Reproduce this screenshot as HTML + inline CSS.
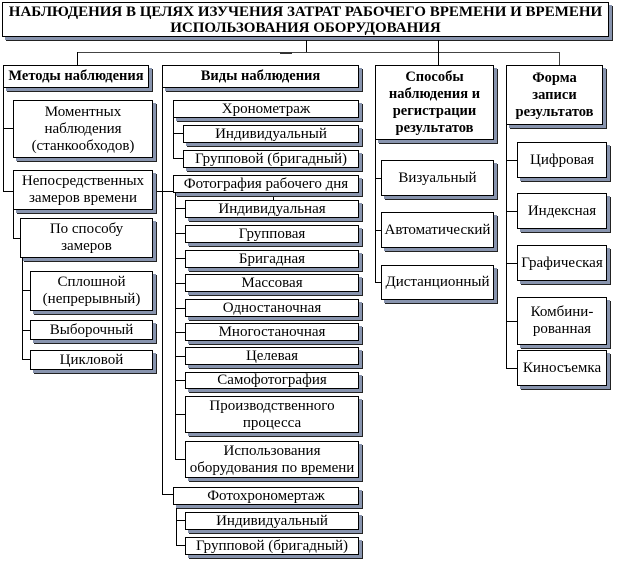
<!DOCTYPE html>
<html><head><meta charset="utf-8"><style>
body{margin:0;width:617px;height:561px;background:#fff;position:relative;overflow:hidden;font-family:"Liberation Serif",serif;}
.b{position:absolute;box-sizing:border-box;border:1px solid #000;background:#fff;box-shadow:3px 3px 0 #8894ae,4px 4px 0 #222;display:flex;align-items:center;justify-content:center;text-align:center;font-size:15px;line-height:17px;color:#000;white-space:nowrap;}
.h{font-weight:bold;font-size:14.5px;}
.l{position:absolute;background:#000;}
</style></head><body>
<div class="b h" style="left:2px;top:2px;width:607px;height:35px;font-size:15px;line-height:16px;">НАБЛЮДЕНИЯ В ЦЕЛЯХ ИЗУЧЕНИЯ ЗАТРАТ РАБОЧЕГО ВРЕМЕНИ И ВРЕМЕНИ<br>ИСПОЛЬЗОВАНИЯ ОБОРУДОВАНИЯ</div>
<div class="l" style="left:306px;top:40px;width:1px;height:13px"></div>
<div class="l" style="left:77px;top:52px;width:483px;height:1px;background:#444"></div>
<div class="l" style="left:77px;top:52px;width:1px;height:13px"></div>
<div class="l" style="left:438px;top:40px;width:1px;height:25px"></div>
<div class="l" style="left:559px;top:52px;width:1px;height:13px;background:#444"></div>
<div class="l" style="left:280px;top:52px;width:12px;height:2px;background:#333"></div>

<div class="b h" style="left:3px;top:65px;width:146px;height:23px">Методы наблюдения</div>
<div class="b h" style="left:162px;top:65px;width:197px;height:23px">Виды наблюдения</div>
<div class="b h" style="left:375px;top:65px;width:119px;height:75px">Способы<br>наблюдения и<br>регистрации<br>результатов</div>
<div class="b h" style="left:506px;top:65px;width:97px;height:60px">Форма<br>записи<br>результатов</div>

<div class="l" style="left:3px;top:88px;width:1px;height:103px"></div>
<div class="l" style="left:3px;top:128px;width:10px;height:1px"></div>
<div class="l" style="left:3px;top:191px;width:270px;height:1px"></div>
<div class="l" style="left:273px;top:191px;width:1px;height:9px"></div>
<div class="b" style="left:13px;top:100px;width:140px;height:58px">Моментных<br>наблюдения<br>(станкообходов)</div>
<div class="b" style="left:13px;top:170px;width:140px;height:40px">Непосредственных<br>замеров времени</div>
<div class="l" style="left:13px;top:210px;width:1px;height:29px"></div>
<div class="l" style="left:13px;top:238px;width:7px;height:1px"></div>
<div class="b" style="left:20px;top:218px;width:133px;height:40px">По способу<br>замеров</div>
<div class="l" style="left:22px;top:258px;width:1px;height:102px"></div>
<div class="l" style="left:22px;top:290px;width:8px;height:1px"></div>
<div class="l" style="left:22px;top:330px;width:8px;height:1px"></div>
<div class="l" style="left:22px;top:359px;width:8px;height:1px"></div>
<div class="b" style="left:30px;top:271px;width:123px;height:40px">Сплошной<br>(непрерывный)</div>
<div class="b" style="left:30px;top:320px;width:123px;height:20px">Выборочный</div>
<div class="b" style="left:30px;top:350px;width:123px;height:20px">Цикловой</div>

<div class="l" style="left:162px;top:88px;width:1px;height:407px"></div>
<div class="l" style="left:162px;top:494px;width:11px;height:1px"></div>
<div class="l" style="left:173px;top:117px;width:1px;height:42px"></div>
<div class="l" style="left:173px;top:133px;width:10px;height:1px"></div>
<div class="l" style="left:173px;top:158px;width:10px;height:1px"></div>
<div class="b" style="left:173px;top:100px;width:186px;height:18px">Хронометраж</div>
<div class="b" style="left:183px;top:125px;width:176px;height:18px">Индивидуальный</div>
<div class="b" style="left:183px;top:150px;width:176px;height:18px">Групповой (бригадный)</div>

<div class="l" style="left:175px;top:193px;width:1px;height:267px"></div>
<div class="l" style="left:175px;top:208px;width:10px;height:1px"></div>
<div class="l" style="left:175px;top:233px;width:10px;height:1px"></div>
<div class="l" style="left:175px;top:258px;width:10px;height:1px"></div>
<div class="l" style="left:175px;top:283px;width:10px;height:1px"></div>
<div class="l" style="left:175px;top:308px;width:10px;height:1px"></div>
<div class="l" style="left:175px;top:332px;width:10px;height:1px"></div>
<div class="l" style="left:175px;top:356px;width:10px;height:1px"></div>
<div class="l" style="left:175px;top:380px;width:10px;height:1px"></div>
<div class="l" style="left:175px;top:414px;width:10px;height:1px"></div>
<div class="l" style="left:175px;top:459px;width:10px;height:1px"></div>
<div class="b" style="left:173px;top:175px;width:186px;height:18px">Фотография рабочего дня</div>
<div class="b" style="left:185px;top:200px;width:174px;height:18px">Индивидуальная</div>
<div class="b" style="left:185px;top:225px;width:174px;height:18px">Групповая</div>
<div class="b" style="left:185px;top:250px;width:174px;height:18px">Бригадная</div>
<div class="b" style="left:185px;top:274px;width:174px;height:18px">Массовая</div>
<div class="b" style="left:185px;top:299px;width:174px;height:18px">Одностаночная</div>
<div class="b" style="left:185px;top:323px;width:174px;height:18px">Многостаночная</div>
<div class="b" style="left:185px;top:347px;width:174px;height:18px">Целевая</div>
<div class="b" style="left:185px;top:372px;width:174px;height:17px">Самофотография</div>
<div class="b" style="left:185px;top:396px;width:174px;height:37px">Производственного<br>процесса</div>
<div class="b" style="left:185px;top:441px;width:174px;height:37px">Использования<br>оборудования по времени</div>

<div class="l" style="left:176px;top:505px;width:1px;height:40px"></div>
<div class="l" style="left:176px;top:520px;width:9px;height:1px"></div>
<div class="l" style="left:176px;top:545px;width:9px;height:1px"></div>
<div class="b" style="left:173px;top:487px;width:186px;height:18px">Фотохрономертаж</div>
<div class="b" style="left:185px;top:512px;width:174px;height:18px">Индивидуальный</div>
<div class="b" style="left:185px;top:537px;width:174px;height:18px">Групповой (бригадный)</div>

<div class="l" style="left:375px;top:140px;width:1px;height:143px"></div>
<div class="l" style="left:375px;top:178px;width:6px;height:1px"></div>
<div class="l" style="left:375px;top:230px;width:6px;height:1px"></div>
<div class="l" style="left:375px;top:282px;width:6px;height:1px"></div>
<div class="b" style="left:381px;top:160px;width:113px;height:36px">Визуальный</div>
<div class="b" style="left:381px;top:212px;width:113px;height:36px">Автоматический</div>
<div class="b" style="left:381px;top:265px;width:113px;height:35px">Дистанционный</div>

<div class="l" style="left:506px;top:125px;width:1px;height:244px"></div>
<div class="l" style="left:506px;top:160px;width:11px;height:1px"></div>
<div class="l" style="left:506px;top:211px;width:11px;height:1px"></div>
<div class="l" style="left:506px;top:263px;width:11px;height:1px"></div>
<div class="l" style="left:506px;top:321px;width:11px;height:1px"></div>
<div class="l" style="left:506px;top:368px;width:11px;height:1px"></div>
<div class="b" style="left:517px;top:142px;width:90px;height:36px">Цифровая</div>
<div class="b" style="left:517px;top:193px;width:90px;height:36px">Индексная</div>
<div class="b" style="left:517px;top:245px;width:90px;height:36px">Графическая</div>
<div class="b" style="left:517px;top:297px;width:90px;height:48px">Комбини-<br>рованная</div>
<div class="b" style="left:517px;top:350px;width:90px;height:36px">Киносъемка</div>
</body></html>
